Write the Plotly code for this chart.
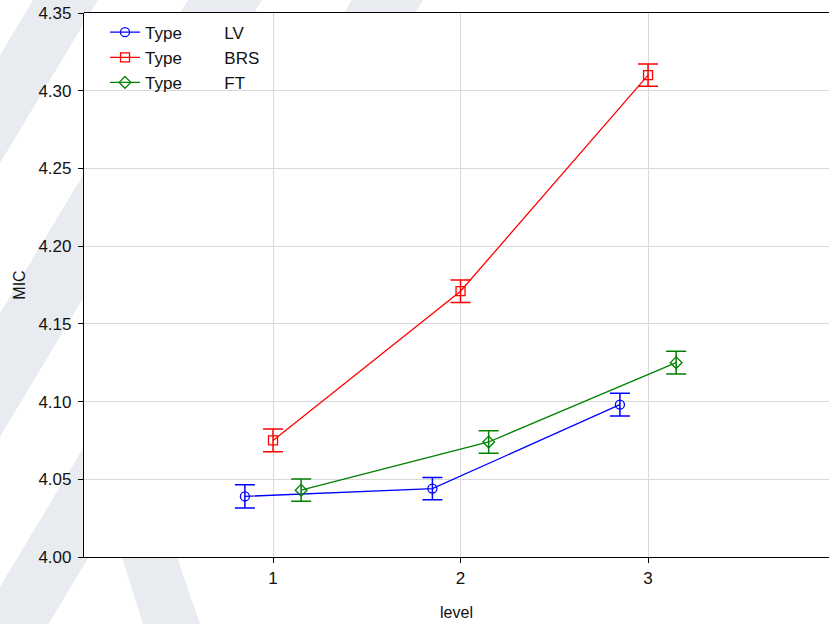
import plotly.graph_objects as go

# ---- data ----
levels = [1, 2, 3]
series_names = ["LV", "BRS", "FT"]
lv_mean = [4.039, 4.044, 4.098]
brs_mean = [4.075, 4.171, 4.310]
ft_mean = [4.043, 4.074, 4.125]
lv_err = [0.0075, 0.0072, 0.0073]
brs_err = [0.0073, 0.0072, 0.0072]
ft_err = [0.0072, 0.0073, 0.0073]
y_ticks = [4.00, 4.05, 4.10, 4.15, 4.20, 4.25, 4.30, 4.35]
x_ticks = [1, 2, 3]

# ---- style ----
W, H = 829, 624
ML, MT, MB, MR = 84, 13, 67, 0
PW, PH = W - ML - MR, H - MT - MB
FONT = "Liberation Sans, Arial, sans-serif"
styles = {
    "LV": dict(color="#0000ff", symbol="circle-open", offset=-0.15),
    "BRS": dict(color="#ff0000", symbol="square-open", offset=0.0),
    "FT": dict(color="#008000", symbol="diamond-open", offset=0.15),
}
means = {"LV": lv_mean, "BRS": brs_mean, "FT": ft_mean}
errs = {"LV": lv_err, "BRS": brs_err, "FT": ft_err}

fig = go.Figure()
for name in series_names:
    st = styles[name]
    fig.add_trace(go.Scatter(
        x=[l + st["offset"] for l in levels],
        y=means[name],
        mode="lines+markers",
        name="Type" + "\u00a0" * 9 + name,
        line=dict(color=st["color"], width=1.3),
        marker=dict(symbol=st["symbol"], size=9, color=st["color"],
                    line=dict(color=st["color"], width=1.3)),
        error_y=dict(type="data", array=errs[name], visible=True,
                     color=st["color"], thickness=1.5, width=10),
    ))


def px2paper(px, py):
    return (px - ML) / PW, 1 - (py - MT) / PH


def poly_path(pts):
    conv = [px2paper(*p) for p in pts]
    return "M " + " L ".join(f"{a:.4f},{b:.4f}" for a, b in conv) + " Z"


wm_color = "#e8ecf0"
shapes = []
# "/" watermark bands (pixel positions at the top edge, slope dx/dy)
for x0, x1 in [(33, 98), (188, 262), (352, 423)]:
    sl = -0.6
    pts = [(x0, 0), (x1, 0), (x1 + sl * 624, 624), (x0 + sl * 624, 624)]
    shapes.append(dict(type="path", path=poly_path(pts), xref="paper", yref="paper",
                       fillcolor=wm_color, line=dict(width=0), layer="below"))
# "\" band below the plot
pts = [(122, 557), (177, 557), (200, 624), (143, 624)]
shapes.append(dict(type="path", path=poly_path(pts), xref="paper", yref="paper",
                   fillcolor=wm_color, line=dict(width=0), layer="below"))
# white plot area covering the watermark
shapes.append(dict(type="rect", x0=0, x1=1, y0=0, y1=1, xref="paper", yref="paper",
                   fillcolor="white", line=dict(width=0), layer="below"))
# top frame line (crisp, centred on pixel row 12.5)
ytop = 1 + 0.5 / PH
shapes.append(dict(type="line", x0=0, x1=1, y0=ytop, y1=ytop, xref="paper", yref="paper",
                   line=dict(color="black", width=1.2)))

fig.update_layout(
    width=W, height=H,
    margin=dict(l=ML, r=MR, t=MT, b=MB, pad=0, autoexpand=False),
    paper_bgcolor="white", plot_bgcolor="white",
    font=dict(family=FONT, size=17, color="#111111"),
    shapes=shapes,
    showlegend=True,
    legend=dict(x=0.0282, y=0.997, xanchor="left", yanchor="top",
                bgcolor="rgba(0,0,0,0)", font=dict(size=17), tracegroupgap=0,
                itemwidth=30),
    xaxis=dict(range=[-0.008, 3.965], tickvals=x_ticks, ticktext=[str(t) for t in x_ticks],
               showgrid=True, gridcolor="#d9d9d9", gridwidth=1,
               showline=True, linecolor="black", linewidth=1.2, automargin=False,
               ticks="outside", ticklen=5, tickcolor="black", zeroline=False,
               title=dict(text="level", font=dict(size=16), standoff=20)),
    yaxis=dict(range=[4.0, 4.35], tickvals=y_ticks, ticktext=[f"{v:.2f}" for v in y_ticks],
               showgrid=True, gridcolor="#d9d9d9", gridwidth=1,
               showline=True, linecolor="black", linewidth=1.2, automargin=False,
               ticks="outside", ticklen=5, tickcolor="black", zeroline=False,
               ticklabelstandoff=3,
               title=dict(text="MIC", font=dict(size=16), standoff=8)),
)

fig.write_html("out.html", config={"displayModeBar": False},
               post_script="document.body.style.margin='0';document.body.style.padding='0';")
